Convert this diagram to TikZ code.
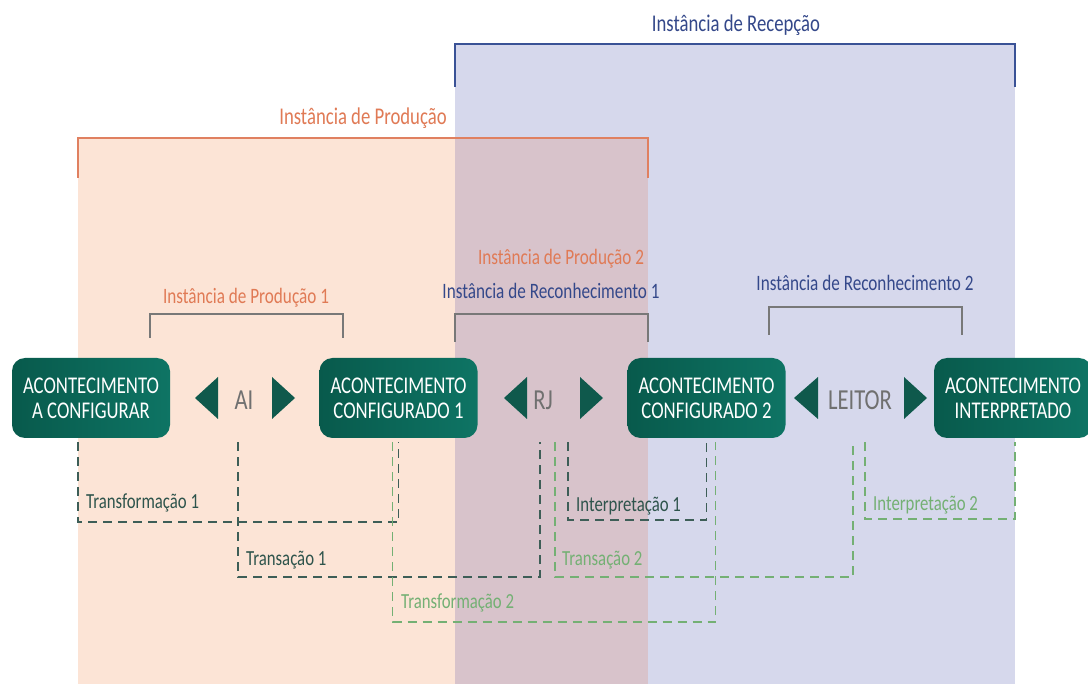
\documentclass[tikz,border=0pt]{standalone}
\usepackage{fontspec}
\setmainfont{Carlito}[FakeStretch=0.78]
\usetikzlibrary{calc}
\definecolor{orfill}{RGB}{252,228,214}
\definecolor{blfill}{RGB}{214,216,236}
\definecolor{ovfill}{RGB}{216,195,203}
\definecolor{orline}{RGB}{224,128,96}
\definecolor{bline}{RGB}{58,82,150}
\definecolor{ortext}{RGB}{224,122,85}
\definecolor{btext}{RGB}{52,72,138}
\definecolor{subgray}{RGB}{120,120,120}
\definecolor{tealA}{RGB}{8,90,76}
\definecolor{tealB}{RGB}{14,116,100}
\definecolor{trigreen}{RGB}{15,89,76}
\definecolor{dkdash}{RGB}{61,94,87}
\definecolor{grdash}{RGB}{116,176,116}
\definecolor{dklabel}{RGB}{46,84,76}
\definecolor{agtext}{RGB}{112,112,112}
\tikzset{
  evbox/.style={rounded corners=13pt, left color=tealA, right color=tealB, draw=none,
    minimum width=158pt, minimum height=80pt, inner sep=0pt, align=center,
    text=white, font=\fontsize{24}{25}\selectfont},
  agent/.style={text=agtext, font=\fontsize{29}{29}\selectfont, minimum height=76pt, inner sep=0pt},
  tri/.style={fill=trigreen},
  dk/.style={draw=dkdash, line width=1.6pt, dash pattern=on 9pt off 6pt},
  gr/.style={draw=grdash, line width=1.6pt, dash pattern=on 9pt off 6pt},
  dklbl/.style={text=dklabel, font=\fontsize{21.5}{21.5}\selectfont, anchor=west, inner sep=0pt},
  grlbl/.style={text=grdash, font=\fontsize{21.5}{21.5}\selectfont, anchor=west, inner sep=0pt},
  heador/.style={text=ortext, font=\fontsize{24}{24}\selectfont, inner sep=0pt},
  headbl/.style={text=btext, font=\fontsize{24}{24}\selectfont, inner sep=0pt},
  subor/.style={text=ortext, font=\fontsize{22}{22}\selectfont, inner sep=0pt},
  subbl/.style={text=btext, font=\fontsize{22}{22}\selectfont, inner sep=0pt},
  bracket/.style={draw=subgray, line width=1.2pt},
}
\begin{document}
\begin{tikzpicture}[x=1pt,y=-1pt]
\useasboundingbox (0,0) rectangle (1088,684);
\fill[white] (0,0) rectangle (1088,684);
% regions
\fill[orfill] (78,138) rectangle (455,684);
\fill[ovfill] (455,138) rectangle (648,684);
\fill[blfill] (455,44) rectangle (648,138);
\fill[blfill] (648,44) rectangle (1015,684);
\draw[orline, line width=1.3pt] (78,178) -- (78,138) -- (648,138) -- (648,178);
\draw[bline, line width=1.3pt] (455,87) -- (455,44) -- (1015,44) -- (1015,87);
\node[headbl] (hrec) at (736,25) {Instância de Recepção};
\node[heador] (hprod) at (363,118) {Instância de Produção};
% sub brackets
\draw[bracket] (150,338) -- (150,314) -- (343,314) -- (343,338);
\draw[bracket] (455,342) -- (455,314) -- (648,314) -- (648,342);
\draw[bracket] (769,335) -- (769,307) -- (962,307) -- (962,335);
\node[subor] (lp1) at (246,298) {Instância de Produção 1};
\node[subor] (lp2) at (561,259) {Instância de Produção 2};
\node[subbl] (lr1) at (551,291) {Instância de Reconhecimento 1};
\node[subbl] (lr2) at (865,283) {Instância de Reconhecimento 2};
% event boxes
\node[evbox] (b1) at (91,398) {ACONTECIMENTO\\A CONFIGURAR};
\node[evbox] (b2) at (398.5,398) {ACONTECIMENTO\\CONFIGURADO 1};
\node[evbox] (b3) at (706.5,398) {ACONTECIMENTO\\CONFIGURADO 2};
\node[evbox] (b4) at (1013,398) {ACONTECIMENTO\\INTERPRETADO};
% agents
\node[agent] (ai) at (244,400) {AI};
\node[agent] (rj) at (543,400) {RJ};
\node[agent] (leitor) at (860,400) {LEITOR};
\fill[tri] (195,398) -- (218,377) -- (218,419) -- cycle;
\fill[tri] (295,398) -- (272,377) -- (272,419) -- cycle;
\fill[tri] (504,398) -- (527,377) -- (527,419) -- cycle;
\fill[tri] (603,398) -- (580,377) -- (580,419) -- cycle;
\fill[tri] (794,398) -- (818,377) -- (818,419) -- cycle;
\fill[tri] (927,398) -- (904,377) -- (904,419) -- cycle;
% dashed connectors
\draw[dk] ([xshift=-13pt,yshift=-4pt]b1.south) -- ++(0,80) -| ([yshift=-4pt]b2.south);
\draw[dk] ([xshift=-6pt,yshift=-4pt]ai.south) -- ++(0,135) -| ([xshift=-3pt,yshift=-4pt]rj.south);
\draw[gr] ([xshift=-6pt,yshift=-4pt]b2.south) -- ++(0,180) -| ([xshift=9pt,yshift=-4pt]b3.south);
\draw[gr] ([xshift=12pt,yshift=-4pt]rj.south) -- ++(0,135) -| ([xshift=-7pt,yshift=-4pt]leitor.south);
\draw[dk] ([xshift=25pt,yshift=-4pt]rj.south) -- ++(0,78) -| ([yshift=-4pt]b3.south);
\draw[gr] ([xshift=5pt,yshift=-4pt]leitor.south) -- ++(0,77) -| ([xshift=2pt,yshift=-4pt]b4.south);
% connector labels
\node[dklbl] (lt1) at (86,503) {Transformação 1};
\node[dklbl] (lts1) at (246,560) {Transação 1};
\node[grlbl] (lt2) at (401,603) {Transformação 2};
\node[grlbl] (lts2) at (562,560) {Transação 2};
\node[dklbl] (li1) at (576,506) {Interpretação 1};
\node[grlbl] (li2) at (873,505) {Interpretação 2};
\end{tikzpicture}
\end{document}
